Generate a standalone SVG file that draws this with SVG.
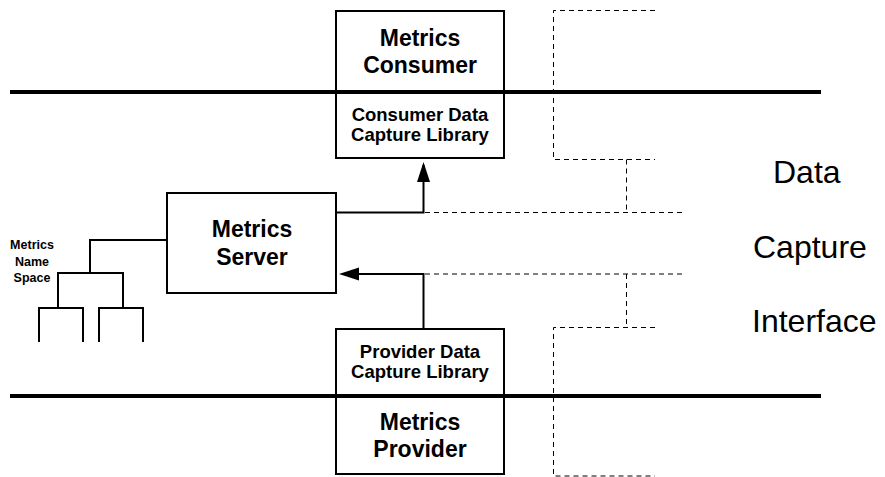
<svg xmlns="http://www.w3.org/2000/svg" width="885" height="477" viewBox="0 0 885 477">
<style>
.box{fill:#fff;stroke:#000;stroke-width:2}
.ln{fill:none;stroke:#000;stroke-width:2}
.bus{fill:none;stroke:#000;stroke-width:4}
.dash{fill:none;stroke:#000;stroke-width:1;stroke-dasharray:5 4}
.big{font-family:"Liberation Sans",Arial,sans-serif;font-weight:bold;font-size:23px;text-anchor:middle}
.mid{font-family:"Liberation Sans",Arial,sans-serif;font-weight:bold;font-size:18.5px;text-anchor:middle}
.sm{font-family:"Liberation Sans",Arial,sans-serif;font-weight:bold;font-size:12.5px;text-anchor:middle}
.lbl{font-family:"Liberation Sans",Arial,sans-serif;font-size:32px}
</style>
<defs>
<marker id="arr" markerUnits="userSpaceOnUse" markerWidth="22" markerHeight="14" refX="17" refY="6.5" orient="auto">
<path d="M0,0 L20,6.5 L0,13 z" fill="#000"/>
</marker>
</defs>
<g id="consumer">
<rect class="box" x="336" y="11" width="168" height="147"/>
<text class="big" x="420" y="46">Metrics</text>
<text class="big" x="420" y="73">Consumer</text>
<text class="mid" x="420" y="121">Consumer Data</text>
<text class="mid" x="420" y="141">Capture Library</text>
</g>
<g id="provider">
<rect class="box" x="336" y="329" width="168" height="145"/>
<text class="mid" x="420" y="358">Provider Data</text>
<text class="mid" x="420" y="378">Capture Library</text>
<text class="big" x="420" y="430">Metrics</text>
<text class="big" x="420" y="457">Provider</text>
</g>
<g id="server">
<rect class="box" x="167" y="193" width="169" height="100"/>
<text class="big" x="252" y="237">Metrics</text>
<text class="big" x="252" y="265">Server</text>
</g>
<g id="namespace">
<text class="sm" x="32" y="249">Metrics</text>
<text class="sm" x="32" y="266">Name</text>
<text class="sm" x="32" y="282">Space</text>
<path class="ln" d="M39,342 V308 H83 V342 M99,342 V308 H143 V342 M58,308 V273 H123 V308"/>
</g>
<g id="buses">
<line class="bus" x1="10" y1="92" x2="821" y2="92"/>
<line class="bus" x1="10" y1="396" x2="821" y2="396"/>
</g>
<g id="interface-label">
<text class="lbl" x="773" y="183">Data</text>
<text class="lbl" x="753" y="258">Capture</text>
<text class="lbl" x="752" y="332">Interface</text>
</g>
<g id="connectors">
<path class="ln" d="M90,240 H167 M90,239 V274"/>
<path class="ln" d="M336,212.5 H423.5 V165" marker-end="url(#arr)"/>
<path class="ln" d="M423.5,329 V274 H342" marker-end="url(#arr)"/>
<path class="dash" d="M655,10.5 H553.5 V159.5 H655"/>
<path class="dash" d="M626.5,159.5 V212.5"/>
<path class="dash" d="M425,212.5 H684"/>
<path class="dash" d="M425,274 H684"/>
<path class="dash" d="M626.5,274 V327.5"/>
<path class="dash" d="M655,327.5 H553.5 V476 H655"/>
</g>
</svg>
